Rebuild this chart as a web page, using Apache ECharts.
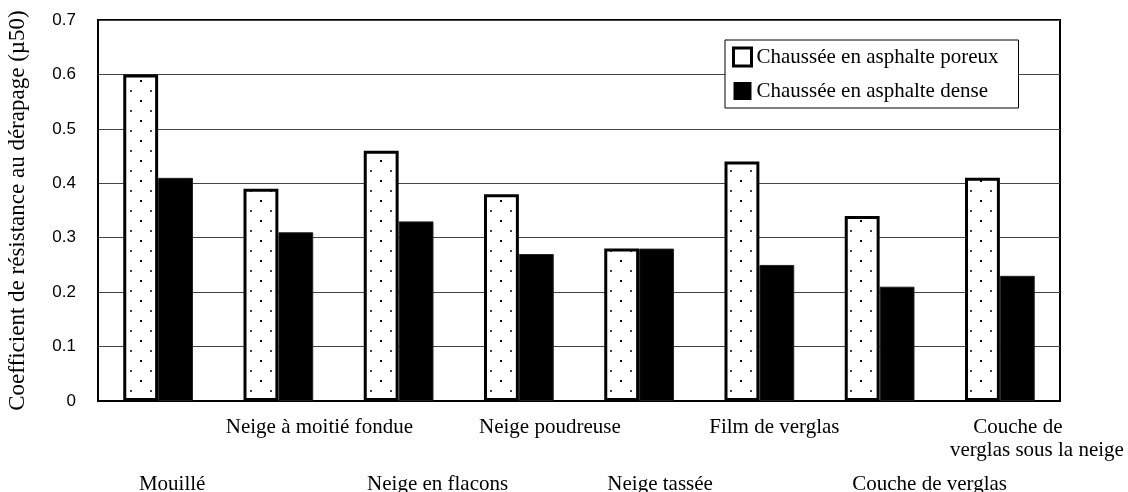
<!DOCTYPE html>
<html>
<head>
<meta charset="utf-8">
<script src="https://cdn.jsdelivr.net/npm/echarts@6/dist/echarts.min.js"></script>
<style>
  html, body { margin: 0; padding: 0; background: #fff; }
  #chart { width: 1128px; height: 492px; }
</style>
</head>
<body>
<div id="chart"></div>
<script>
// Road surface conditions (x categories)
const categories = [
  'Mouillé',
  'Neige à moitié fondue',
  'Neige en flacons',
  'Neige poudreuse',
  'Neige tassée',
  'Film de verglas',
  'Couche de verglas',
  'Couche de\nverglas sous la neige'
];

// Skid resistance coefficient µ50 per pavement type
const porousValues = [0.60, 0.39, 0.46, 0.38, 0.28, 0.44, 0.34, 0.41];
const denseValues  = [0.41, 0.31, 0.33, 0.27, 0.28, 0.25, 0.21, 0.23];

const seriesNames = ['Chaussée en asphalte poreux', 'Chaussée en asphalte dense'];
const yAxisTitle = 'Coefficient de résistance au dérapage (µ50)';

// Horizontal nudge (px) of each category label line, left as the labels sit staggered
const labelShift = [[14], [41], [39], [31], [21], [15], [50], [18, 37]];

const SERIF = '"Liberation Serif", "Times New Roman", serif';
const SANS = '"Liberation Sans", Arial, sans-serif';

// Dotted fill for the porous pavement bars
function dotPattern() {
  const c = document.createElement('canvas');
  c.width = 20; c.height = 20;
  const g = c.getContext('2d');
  g.fillStyle = '#fff';
  g.fillRect(0, 0, 20, 20);
  g.fillStyle = '#000';
  g.fillRect(0, 0, 2, 2);
  g.fillStyle = '#444';
  g.fillRect(10, 10, 2, 2);
  return c;
}

// Rich styles for staggered two-row labels
const rich = {
  gap: { fontSize: 10, lineHeight: 57, fontFamily: SERIF }
};
labelShift.forEach((shifts, i) => {
  shifts.forEach((d, j) => {
    rich['s' + i + '_' + j] = {
      fontFamily: SERIF, fontSize: 21, lineHeight: 23, color: '#000',
      padding: [0, 0, 0, 2 * d]
    };
  });
});

const chart = echarts.init(document.getElementById('chart'), null, { renderer: 'canvas' });

chart.setOption({
  backgroundColor: '#fff',
  animation: false,
  grid: {
    left: 98, right: 68, top: 20, bottom: 91,
    outerBoundsMode: 'none',
    containLabel: false,
    show: true, borderColor: '#000', borderWidth: 2, backgroundColor: 'transparent'
  },
  legend: {
    orient: 'vertical',
    left: 725, top: 40,
    backgroundColor: '#fff',
    borderColor: '#000', borderWidth: 1,
    padding: [5, 20, 5, 7],
    itemGap: 10,
    itemWidth: 18, itemHeight: 18,
    selectedMode: false,
    textStyle: { fontFamily: SERIF, fontSize: 21, lineHeight: 24, color: '#000' },
    data: [
      { name: seriesNames[0], icon: 'rect', itemStyle: { color: '#fff', borderColor: '#000', borderWidth: 3 } },
      { name: seriesNames[1], icon: 'rect', itemStyle: { color: '#000', borderColor: '#000', borderWidth: 0 } }
    ]
  },
  xAxis: {
    type: 'category',
    data: categories,
    axisLine: { show: true, lineStyle: { color: '#000', width: 2 } },
    axisTick: { show: false },
    axisLabel: {
      interval: 0,
      margin: 15,
      formatter: (value, index) => {
        const lines = value.split('\n').map((t, j) => {
          const k = Math.min(j, labelShift[index].length - 1);
          return '{s' + index + '_' + k + '|' + t + '}';
        });
        const body = lines.join('\n');
        return index % 2 === 0 ? '{gap| }\n' + body : body;
      },
      rich: rich
    }
  },
  yAxis: {
    type: 'value',
    min: 0, max: 0.7, interval: 0.1,
    name: yAxisTitle,
    nameLocation: 'middle',
    nameGap: 69,
    nameTextStyle: { fontFamily: SERIF, fontSize: 23, color: '#000' },
    axisLine: { show: true, lineStyle: { color: '#000', width: 2 } },
    axisTick: { show: false },
    axisLabel: {
      margin: 22,
      fontFamily: SANS, fontSize: 17, color: '#000',
      formatter: v => (v === 0 ? '0' : v.toFixed(1))
    },
    splitLine: { show: true, lineStyle: { color: '#444', width: 1 } }
  },
  series: [
    {
      name: seriesNames[0],
      type: 'bar',
      data: porousValues,
      barGap: '0%',
      barCategoryGap: '42%',
      itemStyle: {
        color: { image: dotPattern(), repeat: 'repeat' },
        borderColor: '#000',
        borderWidth: 3
      }
    },
    {
      name: seriesNames[1],
      type: 'bar',
      data: denseValues,
      barGap: '0%',
      barCategoryGap: '42%',
      itemStyle: { color: '#000', borderColor: '#222', borderWidth: 1 }
    }
  ]
});
</script>
</body>
</html>
